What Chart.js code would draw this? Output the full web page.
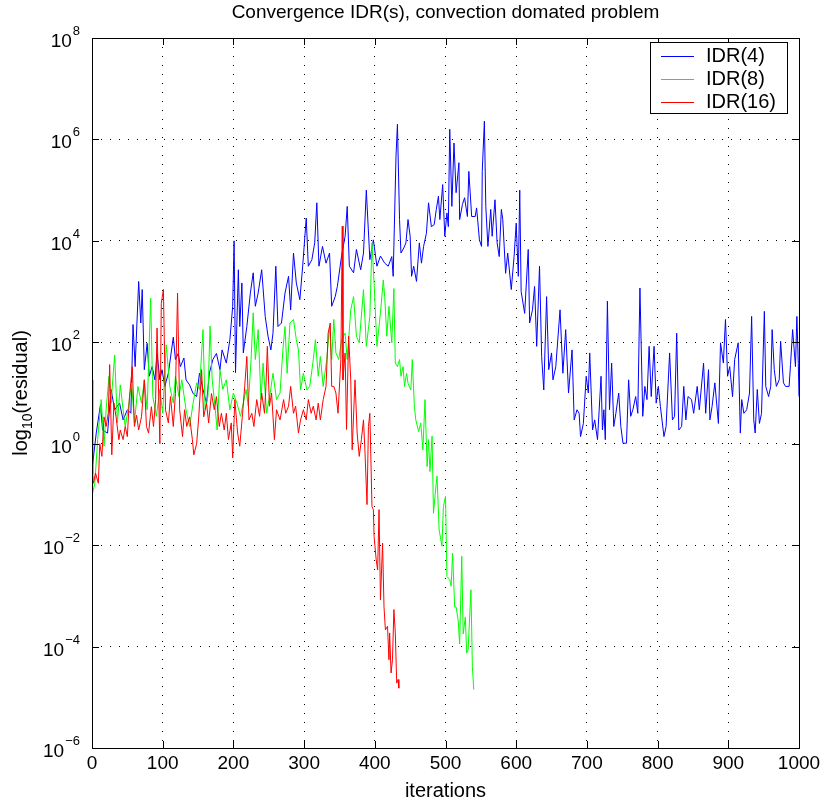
<!DOCTYPE html>
<html>
<head>
<meta charset="utf-8">
<script src="https://cdn.jsdelivr.net/npm/chart.js@4/dist/chart.umd.min.js"></script>
<style>
  html, body { margin: 0; padding: 0; background: #fff; }
  #wrap { width: 828px; height: 802px; }
</style>
</head>
<body>
<div id="wrap"><canvas id="graphCanvas" width="828" height="802"></canvas></div>
<script>
// log10(residual), per iteration
var blueIter = [0,6,12,15,22,27,32,39,44,50,55,58,61,66,69,71,74,78,81,85,89,92,96,99,103,108,115,118,122,125,130,133,138,143,148,152,157,162,166,171,176,181,184,190,195,199,201,203,207,209,212,214,219,224,228,231,235,240,245,249,253,256,260,263,268,273,278,281,285,289,294,298,303,306,311,315,318,321,326,331,336,339,344,347,353,358,361,364,370,374,380,384,388,393,398,403,408,414,419,424,426,430,432,435,437,441,444,447,450,452,455,459,463,466,469,473,476,480,484,487,490,492,496,499,502,504,506,509,512,515,519,520,524,527,531,533,537,542,544,548,551,552,555,557,560,564,566,570,573,576,579,581,585,588,593,597,600,603,605,607,612,617,619,623,626,629,633,636,639,643,646,650,652,656,662,666,670,674,679,682,686,689,691,695,699,702,704,708,711,715,720,722,724,726,729,732,735,738,741,745,748,751,756,759,762,765,769,772,775,779,782,785,788,791,795,798,801,804,809,812,817,821,824,827,830,834,837,840,843,848,851,856,859,865,868,872,874,877,881,886,889,893,896,899,902,906,909,914,917,919,922,926,930,933,936,938,941,944,947,951,953,957,960,962,965,968,972,974,978,981,986,988,991,995,997,999,1000];
var blueLog = [-0.51,0.21,0.77,0.27,0.21,1.07,0.67,0.8,0.47,0.67,0.6,2.35,1.52,3.2,2.38,3.04,1.46,1.98,1.33,1.52,1.26,1.78,1.26,1.46,1.13,1.39,2.1,1.66,1.78,1.52,1.69,1.26,1.16,0.99,0.93,1.39,1.07,0.8,1.39,1.66,1.78,1.46,1.85,1.59,2.05,2.71,4.0,1.4,3.43,2.31,3.17,1.79,2.31,2.97,3.37,2.71,2.97,3.43,2.51,2.12,1.85,2.18,3.5,2.31,2.38,2.97,3.3,2.64,3.76,3.17,2.84,3.5,4.45,3.5,3.63,3.96,4.75,3.5,3.89,3.56,3.76,2.71,2.9,3.1,3.7,4.09,4.68,3.5,3.37,3.83,3.43,3.76,5.0,3.63,4.02,3.5,3.7,3.56,3.5,3.69,3.3,5.67,6.3,4.42,3.76,3.86,3.96,4.42,4.09,3.3,3.5,3.2,3.96,3.56,3.89,4.15,4.75,4.28,4.32,4.62,4.88,4.42,5.11,4.09,4.55,4.28,6.2,4.68,5.93,4.95,5.54,4.42,4.72,4.85,4.48,5.37,4.48,4.48,4.65,4.02,3.89,5.37,6.36,4.68,3.89,4.62,4.09,4.81,3.96,3.69,4.62,4.42,3.36,3.76,3.04,3.69,4.35,3.3,5.0,3.0,2.57,3.83,2.38,2.64,3.1,1.92,3.5,1.72,1.06,2.9,1.46,1.79,1.26,1.52,2.64,1.39,2.25,1.0,1.85,0.47,0.67,0.6,0.14,0.4,1.33,1.0,1.79,0.27,0.47,0.08,1.33,0.27,0.67,0.08,2.81,0.67,1.59,0.34,0.6,1.0,0.34,0.01,0.01,1.26,0.54,0.67,0.93,0.6,3.07,0.54,1.13,0.87,1.92,0.93,1.92,0.8,1.13,0.73,0.14,0.34,1.79,0.47,0.54,2.18,0.27,0.34,1.13,0.47,0.93,0.87,0.6,1.13,0.67,1.59,0.6,1.46,0.47,0.73,1.2,0.4,1.99,1.59,2.45,1.33,1.52,0.93,1.66,1.99,0.21,0.87,0.6,0.67,1.0,2.51,0.47,0.21,1.07,0.4,0.6,2.61,1.13,0.93,1.13,2.25,1.46,1.13,1.26,2.02,1.2,1.13,1.13,1.56,2.25,1.52,2.51,1.59,0.93];

var greenIter = [0,4,8,13,17,20,24,27,32,36,40,44,47,51,56,60,65,70,74,78,83,86,91,96,100,105,110,115,118,123,127,133,138,143,148,152,157,160,164,167,170,174,177,181,185,190,195,200,205,210,214,218,221,225,228,231,235,239,242,247,252,256,261,266,270,273,276,280,285,289,292,295,299,304,308,313,316,320,323,327,332,336,339,342,345,349,353,358,361,366,370,374,378,384,388,393,396,399,403,408,412,414,417,420,424,427,429,432,435,437,440,442,445,447,451,453,456,458,462,465,468,471,474,476,478,481,483,486,488,491,495,497,500,502,506,508,510,513,515,518,520,523,525,528,530,532,536,538,540];
var greenLog = [-1.03,-0.78,0.08,0.87,-0.05,0.67,1.33,0.8,1.75,0.41,1.16,0.67,0.34,0.67,1.2,0.41,1.13,0.8,1.26,0.67,2.87,0.93,0.54,1.07,0.6,1.95,1.13,0.8,1.33,0.93,1.26,0.67,0.34,0.8,1.2,1.07,2.25,0.67,0.93,2.32,1.26,0.73,0.27,1.46,1.07,1.26,0.67,1.0,0.8,0.54,0.8,1.07,0.74,1.66,2.58,1.66,2.25,0.87,1.59,0.6,1.0,1.39,0.87,1.0,1.85,2.31,1.39,2.38,2.45,2.05,1.85,1.06,1.39,1.06,1.13,1.66,2.05,1.33,1.72,1.13,1.66,2.31,1.66,2.45,1.79,1.66,2.05,2.18,1.66,2.64,2.9,2.12,1.99,3.04,1.92,2.51,3.96,3.17,1.92,2.58,3.23,2.9,2.12,2.71,1.99,3.06,1.59,1.52,1.66,1.33,1.52,1.13,1.39,1.19,1.06,1.66,0.73,0.47,0.24,0.41,-0.12,0.87,-0.45,0.08,-0.55,0.15,-1.37,-0.91,-0.64,-1.7,-2.02,-1.24,-1.04,-2.62,-2.68,-2.81,-2.16,-3.22,-3.22,-3.49,-3.95,-2.22,-3.75,-3.42,-4.13,-4.06,-2.88,-4.39,-4.85];

var redIter = [0,1,2,5,9,11,14,17,20,23,25,28,31,34,38,40,44,47,50,53,57,60,63,66,70,74,77,80,84,87,90,92,96,98,101,104,108,111,115,118,121,124,128,131,134,138,142,144,148,151,155,158,162,165,169,173,176,180,183,187,190,193,197,199,202,206,209,213,216,219,222,226,229,233,237,240,244,246,248,251,254,258,261,266,271,274,278,281,285,288,292,295,299,303,306,310,313,317,320,323,327,331,334,337,339,342,345,348,352,354,355,358,360,363,366,368,372,375,378,381,384,386,389,391,393,396,398,399,402,404,406,408,411,413,415,418,420,421,423,425,427,429,431,433,434];
var redLog = [1.26,-0.6,-0.78,-0.58,-0.78,0.0,-0.25,0.53,0.34,0.6,1.56,-0.22,0.8,0.53,0.08,0.27,0.08,0.34,0.14,0.93,1.52,0.34,0.56,0.27,0.53,1.26,0.34,0.21,0.73,0.34,0.87,2.28,0.0,2.77,3.04,0.67,0.41,0.93,0.34,0.99,2.97,0.67,0.14,0.67,0.34,0.53,0.08,-0.22,0.0,0.53,1.46,0.53,0.8,0.41,0.99,0.67,0.93,0.34,0.6,0.27,0.6,0.08,0.41,-0.28,0.87,0.21,-0.05,0.6,1.13,1.72,0.47,0.6,0.34,0.87,0.54,1.0,0.6,1.13,1.92,0.74,1.0,0.08,0.67,0.47,0.87,0.6,0.74,1.13,0.6,0.74,0.21,0.47,0.67,0.47,0.87,0.6,0.74,0.47,0.8,0.47,0.87,1.13,2.18,2.38,1.13,1.13,1.0,0.6,1.66,4.29,1.26,1.79,0.28,2.12,1.26,-0.12,1.26,0.21,-0.25,0.08,0.47,-0.12,-1.2,0.34,0.6,-1.24,-1.3,-1.83,-2.29,-2.49,-1.3,-3.08,-1.96,-3.21,-3.67,-3.6,-4.26,-3.73,-4.52,-4.26,-3.27,-3.73,-4.72,-4.65,-4.82];

var seriesNames = ['IDR(4)', 'IDR(8)', 'IDR(16)'];
var seriesColors = ['#0000ff', '#00ff00', '#ff0000'];
var xTicks = [0, 100, 200, 300, 400, 500, 600, 700, 800, 900, 1000];
var yTicks = [-6, -4, -2, 0, 2, 4, 6, 8];

function toPoints(xs, ys) {
    var pts = [];
    for (var i = 0; i < xs.length; i++) pts.push({x: xs[i], y: ys[i]});
    return pts;
}

var FONT = '"Liberation Sans", Arial, Helvetica, sans-serif';

var matlabLook = {
    id: 'matlabLook',
    afterDatasetsDraw: function(chart) {
        var ctx = chart.ctx;
        var a = chart.chartArea;
        var xs = chart.scales.x, ys = chart.scales.y;
        ctx.save();
        ctx.strokeStyle = '#000';
        ctx.lineWidth = 1;
        // frame
        ctx.strokeRect(Math.round(a.left) + 0.5, Math.round(a.top) + 0.5,
            Math.round(a.right - a.left), Math.round(a.bottom - a.top));
        // inside tick marks
        ctx.beginPath();
        xTicks.forEach(function(v) {
            var px = Math.round(xs.getPixelForValue(v)) + 0.5;
            ctx.moveTo(px, a.bottom); ctx.lineTo(px, a.bottom - 7);
            ctx.moveTo(px, a.top); ctx.lineTo(px, a.top + 7);
        });
        yTicks.forEach(function(v) {
            var py = Math.round(ys.getPixelForValue(v)) + 0.5;
            ctx.moveTo(a.left, py); ctx.lineTo(a.left + 7, py);
            ctx.moveTo(a.right, py); ctx.lineTo(a.right - 7, py);
        });
        ctx.stroke();

        // y tick labels 10^n
        ctx.fillStyle = '#000';
        yTicks.forEach(function(v) {
            var py = ys.getPixelForValue(v);
            var exp = v < 0 ? '\u2212' + (-v) : String(v);
            ctx.font = '13px ' + FONT;
            var ew = ctx.measureText(exp).width;
            var right = a.left - 12;
            ctx.textAlign = 'left';
            ctx.textBaseline = 'alphabetic';
            ctx.fillText(exp, right - ew, py - 3);
            ctx.font = '19px ' + FONT;
            ctx.textAlign = 'right';
            ctx.fillText('10', right - ew - 1, py + 9);
        });

        // title
        ctx.font = '19px ' + FONT;
        ctx.textAlign = 'center';
        ctx.textBaseline = 'middle';
        ctx.fillText('Convergence IDR(s), convection domated problem', (a.left + a.right) / 2, 13);

        // x axis title
        ctx.font = '20px ' + FONT;
        ctx.fillText('iterations', (a.left + a.right) / 2, 791);

        // y axis title with subscript
        ctx.translate(21, (a.top + a.bottom) / 2);
        ctx.rotate(-Math.PI / 2);
        ctx.textAlign = 'left';
        ctx.textBaseline = 'middle';
        ctx.font = '20px ' + FONT;
        var w1 = ctx.measureText('log').width;
        ctx.font = '14px ' + FONT;
        var w2 = ctx.measureText('10').width;
        ctx.font = '20px ' + FONT;
        var w3 = ctx.measureText('(residual)').width;
        var x0 = -(w1 + w2 + w3) / 2;
        ctx.fillText('log', x0, 0);
        ctx.font = '14px ' + FONT;
        ctx.fillText('10', x0 + w1, 7);
        ctx.font = '20px ' + FONT;
        ctx.fillText('(residual)', x0 + w1 + w2, 0);
        ctx.restore();

        // legend
        ctx.save();
        var lx = 650, ly = 42, lw = 137, lh = 71;
        ctx.fillStyle = '#fff';
        ctx.fillRect(lx, ly, lw, lh);
        ctx.strokeStyle = '#000';
        ctx.lineWidth = 1;
        ctx.strokeRect(lx + 0.5, ly + 0.5, lw, lh);
        ctx.font = '20px ' + FONT;
        ctx.textAlign = 'left';
        ctx.textBaseline = 'middle';
        seriesNames.forEach(function(name, i) {
            var yy = ly + 13.5 + i * 23;
            ctx.strokeStyle = seriesColors[i];
            ctx.beginPath();
            ctx.moveTo(lx + 11, Math.round(yy) + 0.5);
            ctx.lineTo(lx + 44, Math.round(yy) + 0.5);
            ctx.stroke();
            ctx.fillStyle = '#000';
            ctx.fillText(name, lx + 56, yy + 1);
        });
        ctx.restore();
    }
};

var chartdata = {
    datasets: [{
        label: seriesNames[0],
        data: toPoints(blueIter, blueLog),
        borderColor: seriesColors[0],
        order: 3
    }, {
        label: seriesNames[1],
        data: toPoints(greenIter, greenLog),
        borderColor: seriesColors[1],
        order: 2
    }, {
        label: seriesNames[2],
        data: toPoints(redIter, redLog),
        borderColor: seriesColors[2],
        order: 1
    }]
};

var graphTarget = document.getElementById('graphCanvas');
var lineGraph = new Chart(graphTarget, {
    type: 'line',
    data: chartdata,
    options: {
        responsive: false,
        animation: false,
        events: [],
        layout: { padding: { left: 0, right: 29, top: 38, bottom: 0 } },
        elements: {
            line: { borderWidth: 1, tension: 0 },
            point: { radius: 0 }
        },
        plugins: {
            legend: { display: false },
            title: { display: false },
            tooltip: { enabled: false }
        },
        scales: {
            x: {
                type: 'linear',
                min: 0,
                max: 1000,
                afterFit: function(scale) { scale.height = 54; },
                afterBuildTicks: function(scale) {
                    scale.ticks = xTicks.map(function(v) { return {value: v}; });
                },
                ticks: {
                    color: '#000',
                    font: { family: FONT, size: 19 },
                    padding: 4,
                    maxRotation: 0,
                    callback: function(value) { return String(value); }
                },
                grid: { color: '#000', lineWidth: 1, drawTicks: false },
                border: { display: false, dash: [1, 8] }
            },
            y: {
                type: 'linear',
                min: -6,
                max: 8,
                afterFit: function(scale) { scale.width = 92; },
                afterBuildTicks: function(scale) {
                    scale.ticks = yTicks.map(function(v) { return {value: v}; });
                },
                ticks: { display: false },
                grid: { color: '#000', lineWidth: 1, drawTicks: false },
                border: { display: false, dash: [1, 8] }
            }
        }
    },
    plugins: [matlabLook]
});
</script>
</body>
</html>
